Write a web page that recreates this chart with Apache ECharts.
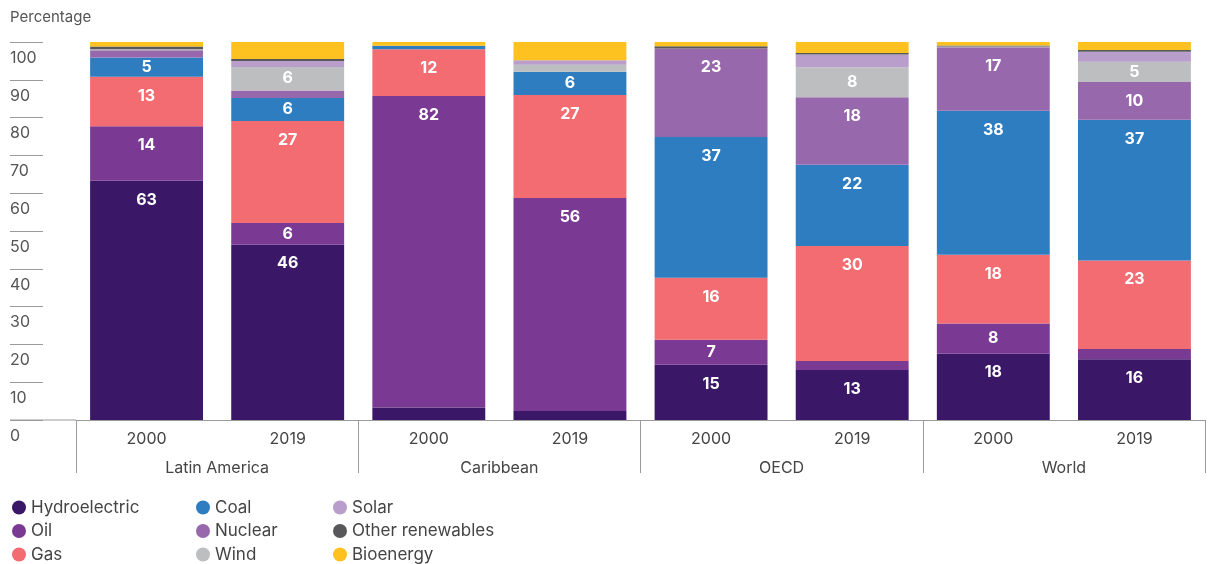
<!DOCTYPE html>
<html>
<head>
<meta charset="utf-8">
<script src="https://cdn.jsdelivr.net/npm/echarts@6/dist/echarts.min.js"></script>
<style>html,body{margin:0;padding:0;background:#fff}#c{width:1211px;height:564px}</style>
</head>
<body>
<div id="c"></div>
<script>
const categories = ['2000','2019','2000','2019','2000','2019','2000','2019'];
const regions = ['Latin America','Caribbean','OECD','World'];
const yTicks = [0,10,20,30,40,50,60,70,80,90,100];
const hydro   = [63.3,46.4, 3.3, 2.4,14.6,13.2,17.6,16.1];
const oil     = [14.4, 5.7,82.4,56.3, 6.6, 2.4, 7.9, 2.7];
const gas     = [13.1,27.0,12.4,27.3,16.4,30.4,18.2,23.4];
const coal    = [ 5.1, 6.1, 0.9, 6.1,37.3,21.5,38.1,37.2];
const nuclear = [ 1.9, 2.0, 0,   0,  23.4,17.9,16.8,10.0];
const wind    = [ 0.3, 6.2, 0,   1.9, 0,   7.9, 0.2, 5.4];
const solar   = [ 0,   1.6, 0,   1.2, 0,   3.4, 0,   2.6];
const other   = [ 0.7, 0.5, 0,   0,   0.6, 0.4, 0.3, 0.5];
const bio     = [ 1.2, 4.5, 1.0, 4.8, 1.1, 2.9, 0.9, 2.1];

const seriesDefs = [
  ['Hydroelectric', hydro, '#3a1767'],
  ['Oil', oil, '#7a3993'],
  ['Gas', gas, '#f26c72'],
  ['Coal', coal, '#2f7dc1'],
  ['Nuclear', nuclear, '#9868ac'],
  ['Wind', wind, '#bdbec0'],
  ['Solar', solar, '#b99dcb'],
  ['Other renewables', other, '#58585a'],
  ['Bioenergy', bio, '#fdc220']
];
const FONT = 'Inter, "Noto Sans", sans-serif';

const chart = echarts.init(document.getElementById('c'), null, {renderer:'canvas'});
const legendBase = {orient:'vertical', icon:'circle', itemWidth:14, itemHeight:14, itemGap:6.5, padding:0,
  textStyle:{fontSize:17, color:'#444', fontFamily:FONT, lineHeight:17}, itemTextGap:8, selectedMode:false};
chart.setOption({
  animation:false,
  title:{text:'Percentage', left:10, top:10, padding:0, textStyle:{fontSize:15, fontWeight:'normal', color:'#555', fontFamily:FONT}},
  grid:{left:76, right:6, top:42, bottom:144},
  legend:[
    Object.assign({data:['Hydroelectric','Oil','Gas'], left:12, top:499}, legendBase),
    Object.assign({data:['Coal','Nuclear','Wind'], left:196, top:499}, legendBase),
    Object.assign({data:['Solar','Other renewables','Bioenergy'], left:333, top:499}, legendBase)
  ],
  xAxis:[
    {type:'category', data:categories, axisTick:{show:false},
     axisLine:{lineStyle:{color:'#9a9a9a', width:1}},
     axisLabel:{margin:11, fontSize:16, color:'#444', fontFamily:FONT}},
    {type:'category', data:regions, position:'bottom', gridIndex:0,
     axisLine:{show:false},
     axisTick:{show:true, length:53, interval:0, lineStyle:{color:'#9a9a9a'}},
     axisLabel:{margin:40, fontSize:16, color:'#444', fontFamily:FONT}}
  ],
  yAxis:{type:'value', min:yTicks[0], max:yTicks[yTicks.length-1], interval:10, offset:33,
    axisLine:{show:false}, splitLine:{show:false},
    axisTick:{show:true, length:33, lineStyle:{color:'#9a9a9a'}},
    axisLabel:{align:'left', margin:33, verticalAlign:'top', padding:[8,0,0,0], fontSize:16, color:'#555', fontFamily:FONT}},
  series: seriesDefs.map(([name, data, color]) => ({
    name, type:'bar', stack:'total', barCategoryGap:'20%', xAxisIndex:0,
    data: data.map(v => ({value:v, label:{position: v < 9 ? 'inside' : 'insideTop', distance:11}})),
    itemStyle:{color},
    label:{show:true, color:'#fff', fontWeight:'bold', fontSize:16, fontFamily:FONT, lineHeight:16,
      formatter: p => p.value >= 5 ? String(Math.round(p.value)) : ''}
  }))
});
const y0 = chart.convertToPixel({yAxisIndex:0}, 0);
const grid = chart.getModel().getComponent('grid').coordinateSystem.getRect();
chart.setOption({graphic:[{type:'line', shape:{x1:10, y1:y0, x2:grid.x, y2:y0}, style:{stroke:'#9a9a9a', lineWidth:1}}]});
</script>
</body>
</html>
